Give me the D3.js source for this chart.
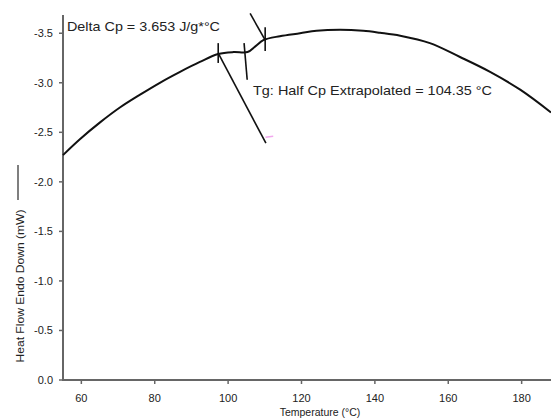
<!DOCTYPE html>
<html>
<head>
<meta charset="utf-8">
<script src="https://cdn.jsdelivr.net/npm/d3@7"></script>
<style>
  body { margin: 0; background: #fff; }
  #chart { width: 551px; height: 419px; }
  text { font-family: "Liberation Sans", Arial, sans-serif; fill: #222; }
</style>
</head>
<body>
<div id="chart"></div>
<script>
// DSC heat flow curve
const temperature = [55, 59.6, 65.1, 70.5, 76, 81.4, 86.9, 92.3, 97.3, 101.5, 105.3, 107.5, 109.6, 114.1, 119.6, 124.1, 130.5, 136.8, 141.4, 146.9, 155, 163.2, 171.4, 179.6, 188];
const heatFlow = [-2.27, -2.43, -2.60, -2.75, -2.88, -3.00, -3.11, -3.21, -3.29, -3.31, -3.31, -3.37, -3.43, -3.47, -3.50, -3.525, -3.535, -3.525, -3.505, -3.475, -3.40, -3.26, -3.11, -2.93, -2.70];

// tick labels
const xTicks = [60, 80, 100, 120, 140, 160, 180];
const yTicks = [0.0, -0.5, -1.0, -1.5, -2.0, -2.5, -3.0, -3.5];

// glass transition analysis marks (temperature, heat flow pairs)
const onsetTick = [[97.3, -3.40], [97.3, -3.20]];
const onsetTangent = [[97.3, -3.30], [110.3, -2.39]];
const midTick = [[104.35, -3.40], [105.2, -3.03]];
const endTick = [[110.1, -3.56], [110.1, -3.32]];
const endTangent = [[106.0, -3.70], [110.1, -3.43]];
const stray = [[110.2, -2.45], [112.3, -2.46]];

const deltaLabel = 'Delta Cp = 3.653 J/g*°C';
const tgLabel = 'Tg: Half Cp Extrapolated = 104.35 °C';

const width = 551, height = 419;

const svg = d3.select('#chart').append('svg')
    .attr('width', width)
    .attr('height', height);

const x = d3.scaleLinear().domain([55, 188]).range([63, 551]);
const y = d3.scaleLinear().domain([0, -3.684]).range([380, 15]);

// axes
const axisColor = '#666';
svg.append('line')
    .attr('x1', x(55)).attr('x2', x(188))
    .attr('y1', y(0)).attr('y2', y(0))
    .attr('stroke', axisColor).attr('stroke-width', 2);
svg.append('line')
    .attr('x1', x(55)).attr('x2', x(55))
    .attr('y1', y(0) + 1).attr('y2', y(-3.684))
    .attr('stroke', axisColor).attr('stroke-width', 2);

svg.selectAll('.xtick')
    .data(xTicks)
    .enter()
    .append('line')
    .attr('class', 'xtick')
    .attr('x1', d => x(d)).attr('x2', d => x(d))
    .attr('y1', y(0)).attr('y2', y(0) + 4)
    .attr('stroke', axisColor).attr('stroke-width', 1.5);

svg.selectAll('.xlabel')
    .data(xTicks)
    .enter()
    .append('text')
    .attr('class', 'xlabel')
    .attr('x', d => x(d))
    .attr('y', 402)
    .attr('text-anchor', 'middle')
    .style('font-size', '11px')
    .text(d => d);

svg.selectAll('.ytick')
    .data(yTicks)
    .enter()
    .append('line')
    .attr('class', 'ytick')
    .attr('x1', x(55) - 4).attr('x2', x(55))
    .attr('y1', d => y(d)).attr('y2', d => y(d))
    .attr('stroke', axisColor).attr('stroke-width', 1.5);

svg.selectAll('.ylabel')
    .data(yTicks)
    .enter()
    .append('text')
    .attr('class', 'ylabel')
    .attr('x', 53)
    .attr('y', d => y(d) + 4)
    .attr('text-anchor', 'end')
    .style('font-size', '11px')
    .text(d => d.toFixed(1));

// axis titles
svg.append('text')
    .attr('x', 320)
    .attr('y', 416)
    .attr('text-anchor', 'middle')
    .style('font-size', '10.5px')
    .text('Temperature (°C)');

svg.append('text')
    .attr('transform', 'translate(24, 286) rotate(-90)')
    .attr('text-anchor', 'middle')
    .style('font-size', '11px')
    .attr('textLength', 153)
    .attr('lengthAdjust', 'spacingAndGlyphs')
    .text('Heat Flow Endo Down (mW)');
svg.append('line')
    .attr('x1', 18).attr('x2', 18)
    .attr('y1', 165).attr('y2', 200)
    .attr('stroke', '#555').attr('stroke-width', 1.5);

// heat flow curve
const points = temperature.map((t, i) => [t, heatFlow[i]]);
const line = d3.line()
    .x(d => x(d[0]))
    .y(d => y(d[1]))
    .curve(d3.curveCatmullRom.alpha(0.5));

svg.append('path')
    .datum(points)
    .attr('d', line)
    .attr('fill', 'none')
    .attr('stroke', '#111')
    .attr('stroke-width', 2);

// analysis marks
const straight = d3.line().x(d => x(d[0])).y(d => y(d[1]));
[onsetTick, onsetTangent, midTick, endTick, endTangent].forEach(seg => {
    svg.append('path')
        .attr('d', straight(seg))
        .attr('fill', 'none')
        .attr('stroke', '#111')
        .attr('stroke-width', 1.6);
});
svg.append('path')
    .attr('d', straight(stray))
    .attr('stroke', '#f2a8ee')
    .attr('stroke-width', 1.5);

// annotations
svg.append('text')
    .attr('x', 67)
    .attr('y', 31)
    .style('font-size', '13px')
    .attr('textLength', 153)
    .attr('lengthAdjust', 'spacingAndGlyphs')
    .text(deltaLabel);

svg.append('text')
    .attr('x', 253)
    .attr('y', 95)
    .style('font-size', '13.5px')
    .attr('textLength', 239)
    .attr('lengthAdjust', 'spacingAndGlyphs')
    .text(tgLabel);
</script>
</body>
</html>
